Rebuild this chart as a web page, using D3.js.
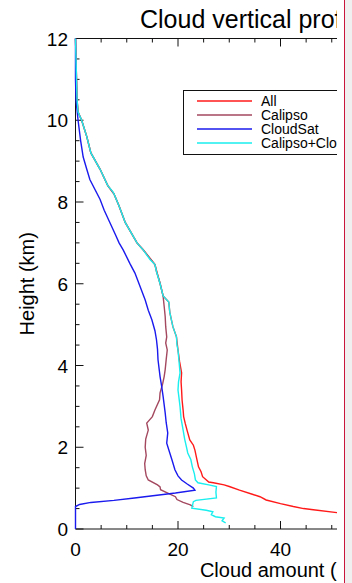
<!DOCTYPE html>
<html>
<head>
<meta charset="utf-8">
<script src="https://cdn.jsdelivr.net/npm/d3@7"></script>
<style>
  body { margin: 0; background: #f0f0f0; }
  #frame { width: 344px; height: 583px; background: #fff; border-right: 1px solid #c8163c; }
  svg { display: block; font-family: "Liberation Sans", Arial, Helvetica, sans-serif; }
</style>
</head>
<body>
<div id="frame"><div id="my_dataviz"></div></div>
<script>
// series as [height km, cloud amount %]
var calipsoCloudsat = [
  [12.0, 0.0], [11.5, 0.1], [11.0, 0.2], [10.5, 0.3], [10.2, 0.5], [10.0, 1.2], [9.6, 2.2],
  [9.2, 3.0], [8.8, 4.8], [8.4, 6.3], [8.25, 7.3], [8.2, 7.5], [7.9, 8.5],
  [7.5, 9.7], [7.0, 12.0], [6.83, 13.2], [6.6, 14.5], [6.47, 15.5], [6.3, 15.8], [6.0, 16.5],
  [5.7, 17.1], [5.55, 18.2], [5.3, 18.4], [4.95, 19.0], [4.7, 19.7], [4.5, 19.8], [4.38, 20.0],
  [4.1, 20.2], [3.82, 20.4], [3.6, 20.1], [3.4, 20.0], [3.2, 20.2], [2.99, 20.4], [2.7, 20.6],
  [2.42, 21.0], [2.2, 21.3], [1.98, 21.7], [1.86, 21.9], [1.7, 22.5], [1.52, 22.8], [1.35, 23.2],
  [1.2, 23.4], [1.13, 23.9], [1.08, 26.0], [1.04, 27.5], [0.9, 27.4], [0.76, 27.5], [0.7, 23.5],
  [0.67, 23.0], [0.51, 22.7], [0.46, 25.5], [0.42, 26.8], [0.35, 26.5], [0.3, 27.3], [0.27, 29.0],
  [0.2, 28.6], [0.15, 29.3]
];

var all = [
  [12.0, 0.0], [11.5, 0.1], [11.0, 0.2], [10.5, 0.3], [10.2, 0.5], [10.0, 1.2], [9.6, 2.2],
  [9.2, 3.0], [8.8, 4.8], [8.4, 6.3], [8.2, 7.5], [7.9, 8.5], [7.5, 9.7], [7.0, 12.0],
  [6.83, 13.2], [6.47, 15.5], [6.0, 16.5], [5.7, 17.1], [5.55, 18.2], [5.3, 18.4], [4.95, 19.0],
  [4.7, 19.7], [4.38, 20.0], [4.1, 20.3], [3.82, 20.7], [3.6, 20.6], [3.4, 20.7], [3.15, 20.8],
  [2.91, 21.0], [2.75, 21.1], [2.59, 21.4], [2.4, 21.8], [2.18, 22.3], [2.05, 23.0], [1.93, 23.3],
  [1.75, 23.6], [1.52, 24.0], [1.4, 24.5], [1.28, 24.8], [1.15, 26.0], [1.13, 26.9], [1.08, 29.0],
  [1.04, 30.0], [0.95, 32.0], [0.85, 34.5], [0.79, 36.0], [0.71, 37.2], [0.62, 40.0], [0.55, 42.5],
  [0.5, 44.5], [0.47, 46.4], [0.4, 51.0], [0.32, 58.0], [0.24, 66.0]
];

var calipso = [
  [12.0, 0.0], [11.5, 0.1], [11.0, 0.2], [10.5, 0.3], [10.2, 0.5], [10.0, 1.2], [9.6, 2.2],
  [9.2, 3.0], [8.8, 4.8], [8.4, 6.3], [8.2, 7.5], [7.9, 8.5], [7.5, 9.7], [7.0, 12.0],
  [6.83, 13.2], [6.47, 15.5], [6.3, 15.8], [6.02, 16.5], [5.69, 17.1], [5.45, 17.3], [5.2, 17.5],
  [4.95, 17.6], [4.7, 17.8], [4.55, 17.6], [4.38, 17.9], [4.15, 17.7], [3.9, 17.5], [3.73, 17.3],
  [3.55, 17.0], [3.33, 16.5], [3.16, 16.4], [2.91, 15.5], [2.75, 15.0], [2.59, 13.9], [2.42, 14.2],
  [2.2, 13.7], [2.0, 13.6], [1.8, 13.8], [1.6, 13.5], [1.45, 13.6], [1.3, 13.8], [1.2, 14.2],
  [1.08, 16.0], [1.03, 16.5], [0.96, 16.6], [0.88, 18.0], [0.79, 19.5], [0.72, 19.8], [0.65, 21.0],
  [0.59, 22.4], [0.55, 23.0]
];

var cloudsat = [
  [12.0, 0.0], [11.0, 0.0], [10.5, 0.1], [10.0, 0.5], [9.5, 1.0], [9.1, 1.5], [8.8, 2.2],
  [8.55, 2.8], [8.06, 4.8], [7.8, 5.6], [7.5, 6.7], [7.2, 7.8], [7.0, 8.5], [6.83, 9.3],
  [6.5, 10.6], [6.26, 11.6], [5.93, 12.6], [5.6, 13.6], [5.35, 14.2], [5.12, 14.9], [4.85, 15.5],
  [4.63, 15.8], [4.4, 16.0], [4.14, 16.1], [3.73, 16.5], [3.5, 16.8], [3.24, 17.1], [2.84, 17.5],
  [2.6, 17.7], [2.35, 18.0], [2.1, 17.8], [1.86, 18.4], [1.7, 18.8], [1.45, 19.4], [1.3, 20.0],
  [1.2, 20.7], [1.1, 21.8], [1.0, 23.0], [0.95, 23.3], [0.88, 19.5], [0.82, 15.5], [0.76, 11.5],
  [0.7, 7.5], [0.65, 3.0], [0.6, 0.8], [0.55, 0.0], [0.0, 0.0]
];

var seriesNames = ["All", "Calipso", "CloudSat", "Calipso+CloudSat"];
var seriesColors = ["#ff1a1a", "#a3485f", "#1a1aee", "#1aeeee"];
var xTicks = [0, 20, 40, 60, 80];
var yTicks = [0, 2, 4, 6, 8, 10, 12];

var x = d3.scaleLinear().domain([0, 80]).range([75.5, 485.5]);
var y = d3.scaleLinear().domain([0, 12]).range([529, 38.5]);

var svg = d3.select("#my_dataviz").append("svg")
  .attr("width", 337)
  .attr("height", 583);

// title
svg.append("text")
  .attr("x", 140).attr("y", 28)
  .style("font-size", "25px")
  .text("Cloud vertical profile");

// axes
var ax = svg.append("g").attr("stroke", "#111").attr("fill", "none");
ax.append("line").attr("x1", x(0)).attr("x2", x(80)).attr("y1", y(0)).attr("y2", y(0));
ax.append("line").attr("x1", x(0)).attr("x2", x(80)).attr("y1", y(12)).attr("y2", y(12));
ax.append("line").attr("x1", x(0)).attr("x2", x(0)).attr("y1", y(0)).attr("y2", y(12));

var xMinor = d3.range(0, 81, 5);
var yMinor = d3.range(0, 12.01, 0.5);

ax.selectAll(".xb").data(xMinor).enter().append("line")
  .attr("x1", function (d) { return x(d); }).attr("x2", function (d) { return x(d); })
  .attr("y1", y(0))
  .attr("y2", function (d) { return y(0) - (d % 20 == 0 ? 8 : 4); });
ax.selectAll(".xt").data(xMinor).enter().append("line")
  .attr("x1", function (d) { return x(d); }).attr("x2", function (d) { return x(d); })
  .attr("y1", y(12))
  .attr("y2", function (d) { return y(12) + (d % 20 == 0 ? 8 : 4); });
ax.selectAll(".yl").data(yMinor).enter().append("line")
  .attr("y1", function (d) { return y(d); }).attr("y2", function (d) { return y(d); })
  .attr("x1", x(0))
  .attr("x2", function (d) { return x(0) + (d % 2 == 0 ? 8 : 4); });

svg.selectAll(".xlab").data(xTicks).enter().append("text")
  .attr("x", function (d) { return x(d); })
  .attr("y", 556)
  .attr("text-anchor", "middle")
  .style("font-size", "19px")
  .text(function (d) { return d; });

svg.selectAll(".ylab").data(yTicks).enter().append("text")
  .attr("x", 68)
  .attr("y", function (d) { return y(d) + 7; })
  .attr("text-anchor", "end")
  .style("font-size", "19px")
  .text(function (d) { return d; });

svg.append("text")
  .attr("x", (x(0) + x(80)) / 2).attr("y", 577)
  .attr("text-anchor", "middle")
  .style("font-size", "20px")
  .text("Cloud amount (%)");

svg.append("text")
  .attr("transform", "translate(34," + (y(0) + y(12)) / 2 + ") rotate(-90)")
  .attr("text-anchor", "middle")
  .style("font-size", "20px")
  .text("Height (km)");

// the lines
var line = d3.line()
  .x(function (d) { return x(d[1]); })
  .y(function (d) { return y(d[0]); });

[all, calipso, cloudsat, calipsoCloudsat].forEach(function (s, i) {
  svg.append("path")
    .datum(s)
    .attr("d", line)
    .attr("fill", "none")
    .attr("stroke", seriesColors[i])
    .attr("stroke-width", 1.4);
});

// legend
var leg = svg.append("g");
leg.append("rect")
  .attr("x", 183.5).attr("y", 90.5)
  .attr("width", 200).attr("height", 64)
  .attr("fill", "#fff").attr("stroke", "#111");
seriesNames.forEach(function (n, i) {
  var yy = 101 + i * 14;
  leg.append("line")
    .attr("x1", 197).attr("x2", 252).attr("y1", yy).attr("y2", yy)
    .attr("stroke", seriesColors[i]).attr("stroke-width", 1.4);
  leg.append("text")
    .attr("x", 261).attr("y", yy + 5)
    .style("font-size", "14px")
    .text(n);
});
</script>
</body>
</html>
